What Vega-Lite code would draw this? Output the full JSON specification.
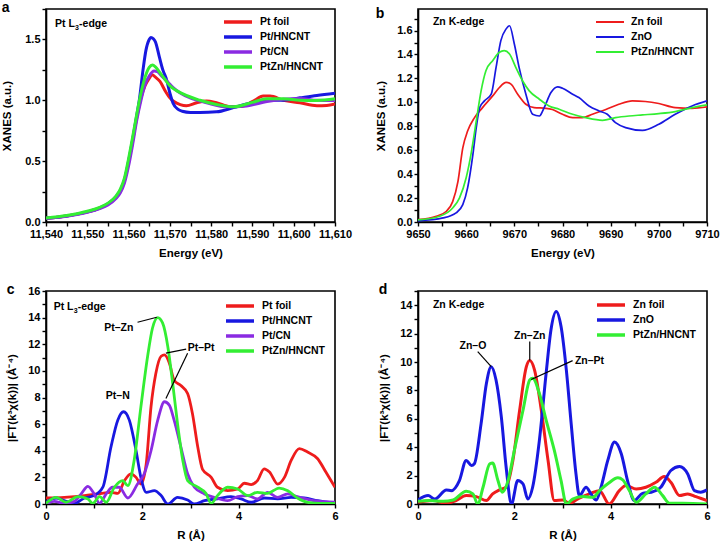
{
  "$schema": "https://vega.github.io/schema/vega-lite/v6.json",
  "padding": {"left": 0, "top": 0, "right": 0, "bottom": 0},
  "bounds": "flush",
  "columns": 2,
  "spacing": {"row": 69, "column": 83},
  "resolve": {"scale": {"color": "independent"}, "legend": {"color": "independent"}},
  "config": {
    "font": "Liberation Sans",
    "view": {"stroke": "black", "strokeWidth": 1.6},
    "axis": {"grid": false, "domainColor": "black", "domainWidth": 1.6, "tickColor": "black", "tickWidth": 1.4, "tickSize": 4, "labelFont": "Liberation Sans", "labelFontWeight": "bold", "labelFontSize": 11, "labelColor": "black", "labelPadding": 2, "titleFont": "Liberation Sans", "titleFontWeight": "bold", "titleFontSize": 11.5, "titleColor": "black", "labelFlush": false, "labelOverlap": false},
    "legend": {"labelFont": "Liberation Sans", "labelFontWeight": "bold", "labelFontSize": 10.5, "labelColor": "black", "padding": 0, "rowPadding": 3, "labelOffset": 6, "clipHeight": 12},
    "title": {"font": "Liberation Sans", "fontWeight": "bold", "fontSize": 14, "color": "black", "anchor": "start", "frame": "bounds", "baseline": "alphabetic", "offset": -12}
  },
  "datasets": {
    "a": [
      {"s":"Pt foil","x":11540,"y":0.03},{"s":"Pt foil","x":11545,"y":0.05},{"s":"Pt foil","x":11550,"y":0.083},{"s":"Pt foil","x":11553,"y":0.115},{"s":"Pt foil","x":11555,"y":0.148},{"s":"Pt foil","x":11557,"y":0.205},{"s":"Pt foil","x":11558,"y":0.255},{"s":"Pt foil","x":11559,"y":0.34},{"s":"Pt foil","x":11560,"y":0.49},{"s":"Pt foil","x":11561,"y":0.67},{"s":"Pt foil","x":11562,"y":0.86},{"s":"Pt foil","x":11563,"y":1.02},{"s":"Pt foil","x":11564,"y":1.12},{"s":"Pt foil","x":11565,"y":1.18},{"s":"Pt foil","x":11565.7,"y":1.21},{"s":"Pt foil","x":11566.5,"y":1.19},{"s":"Pt foil","x":11567.6,"y":1.155},{"s":"Pt foil","x":11569,"y":1.07},{"s":"Pt foil","x":11570,"y":1.02},{"s":"Pt foil","x":11571,"y":0.99},{"s":"Pt foil","x":11572.5,"y":0.965},{"s":"Pt foil","x":11574,"y":0.955},{"s":"Pt foil","x":11576.5,"y":0.98},{"s":"Pt foil","x":11578.9,"y":0.995},{"s":"Pt foil","x":11581.3,"y":0.98},{"s":"Pt foil","x":11584.6,"y":0.948},{"s":"Pt foil","x":11587,"y":0.948},{"s":"Pt foil","x":11590.2,"y":0.993},{"s":"Pt foil","x":11592.6,"y":1.035},{"s":"Pt foil","x":11594.3,"y":1.035},{"s":"Pt foil","x":11597.5,"y":1.0},{"s":"Pt foil","x":11601.5,"y":0.98},{"s":"Pt foil","x":11605.6,"y":0.956},{"s":"Pt foil","x":11608,"y":0.958},{"s":"Pt foil","x":11610,"y":0.97},
      {"s":"Pt/HNCNT","x":11540,"y":0.03},{"s":"Pt/HNCNT","x":11545,"y":0.05},{"s":"Pt/HNCNT","x":11550,"y":0.083},{"s":"Pt/HNCNT","x":11553,"y":0.115},{"s":"Pt/HNCNT","x":11555,"y":0.15},{"s":"Pt/HNCNT","x":11557,"y":0.21},{"s":"Pt/HNCNT","x":11558,"y":0.26},{"s":"Pt/HNCNT","x":11559,"y":0.345},{"s":"Pt/HNCNT","x":11560,"y":0.5},{"s":"Pt/HNCNT","x":11561,"y":0.68},{"s":"Pt/HNCNT","x":11562,"y":0.88},{"s":"Pt/HNCNT","x":11562.6,"y":1.0},{"s":"Pt/HNCNT","x":11563.5,"y":1.25},{"s":"Pt/HNCNT","x":11564.2,"y":1.41},{"s":"Pt/HNCNT","x":11565,"y":1.5},{"s":"Pt/HNCNT","x":11565.4,"y":1.516},{"s":"Pt/HNCNT","x":11566,"y":1.505},{"s":"Pt/HNCNT","x":11566.5,"y":1.48},{"s":"Pt/HNCNT","x":11567.5,"y":1.35},{"s":"Pt/HNCNT","x":11568.3,"y":1.25},{"s":"Pt/HNCNT","x":11569.2,"y":1.17},{"s":"Pt/HNCNT","x":11570,"y":1.06},{"s":"Pt/HNCNT","x":11570.8,"y":0.975},{"s":"Pt/HNCNT","x":11572,"y":0.925},{"s":"Pt/HNCNT","x":11573,"y":0.91},{"s":"Pt/HNCNT","x":11575,"y":0.9},{"s":"Pt/HNCNT","x":11577.3,"y":0.9},{"s":"Pt/HNCNT","x":11581.3,"y":0.905},{"s":"Pt/HNCNT","x":11585.4,"y":0.94},{"s":"Pt/HNCNT","x":11589.4,"y":0.975},{"s":"Pt/HNCNT","x":11593.5,"y":1.0},{"s":"Pt/HNCNT","x":11597.5,"y":1.0},{"s":"Pt/HNCNT","x":11601.5,"y":1.02},{"s":"Pt/HNCNT","x":11605.6,"y":1.04},{"s":"Pt/HNCNT","x":11610,"y":1.058},
      {"s":"Pt/CN","x":11540,"y":0.03},{"s":"Pt/CN","x":11545,"y":0.048},{"s":"Pt/CN","x":11550,"y":0.08},{"s":"Pt/CN","x":11553,"y":0.11},{"s":"Pt/CN","x":11555,"y":0.14},{"s":"Pt/CN","x":11557,"y":0.195},{"s":"Pt/CN","x":11558,"y":0.24},{"s":"Pt/CN","x":11559,"y":0.32},{"s":"Pt/CN","x":11560,"y":0.46},{"s":"Pt/CN","x":11561,"y":0.64},{"s":"Pt/CN","x":11562,"y":0.84},{"s":"Pt/CN","x":11563,"y":1.0},{"s":"Pt/CN","x":11564,"y":1.13},{"s":"Pt/CN","x":11565,"y":1.2},{"s":"Pt/CN","x":11566.2,"y":1.24},{"s":"Pt/CN","x":11567,"y":1.235},{"s":"Pt/CN","x":11568,"y":1.2},{"s":"Pt/CN","x":11569.5,"y":1.15},{"s":"Pt/CN","x":11570.8,"y":1.104},{"s":"Pt/CN","x":11572.5,"y":1.06},{"s":"Pt/CN","x":11574.9,"y":1.02},{"s":"Pt/CN","x":11578.9,"y":0.98},{"s":"Pt/CN","x":11583.8,"y":0.946},{"s":"Pt/CN","x":11588.6,"y":0.954},{"s":"Pt/CN","x":11593.5,"y":0.99},{"s":"Pt/CN","x":11597.5,"y":1.008},{"s":"Pt/CN","x":11601.5,"y":1.015},{"s":"Pt/CN","x":11605.6,"y":1.0},{"s":"Pt/CN","x":11610,"y":0.998},
      {"s":"PtZn/HNCNT","x":11540,"y":0.033},{"s":"PtZn/HNCNT","x":11545,"y":0.053},{"s":"PtZn/HNCNT","x":11550,"y":0.088},{"s":"PtZn/HNCNT","x":11553,"y":0.12},{"s":"PtZn/HNCNT","x":11555,"y":0.155},{"s":"PtZn/HNCNT","x":11557,"y":0.215},{"s":"PtZn/HNCNT","x":11558,"y":0.27},{"s":"PtZn/HNCNT","x":11559,"y":0.36},{"s":"PtZn/HNCNT","x":11560,"y":0.52},{"s":"PtZn/HNCNT","x":11561,"y":0.7},{"s":"PtZn/HNCNT","x":11562,"y":0.89},{"s":"PtZn/HNCNT","x":11563,"y":1.06},{"s":"PtZn/HNCNT","x":11564,"y":1.19},{"s":"PtZn/HNCNT","x":11565,"y":1.27},{"s":"PtZn/HNCNT","x":11565.8,"y":1.29},{"s":"PtZn/HNCNT","x":11566.5,"y":1.275},{"s":"PtZn/HNCNT","x":11567.6,"y":1.227},{"s":"PtZn/HNCNT","x":11570,"y":1.12},{"s":"PtZn/HNCNT","x":11573.3,"y":1.05},{"s":"PtZn/HNCNT","x":11577.3,"y":1.0},{"s":"PtZn/HNCNT","x":11581.3,"y":0.966},{"s":"PtZn/HNCNT","x":11585.4,"y":0.946},{"s":"PtZn/HNCNT","x":11590.2,"y":0.985},{"s":"PtZn/HNCNT","x":11593.5,"y":1.012},{"s":"PtZn/HNCNT","x":11597.5,"y":1.012},{"s":"PtZn/HNCNT","x":11601.5,"y":1.0},{"s":"PtZn/HNCNT","x":11605.6,"y":0.998},{"s":"PtZn/HNCNT","x":11610,"y":1.012}
    ],
    "b": [
      {"s":"Zn foil","x":9650,"y":0.02},{"s":"Zn foil","x":9653.8,"y":0.048},{"s":"Zn foil","x":9655.9,"y":0.09},{"s":"Zn foil","x":9657.2,"y":0.17},{"s":"Zn foil","x":9658.3,"y":0.34},{"s":"Zn foil","x":9659.3,"y":0.62},{"s":"Zn foil","x":9660.3,"y":0.76},{"s":"Zn foil","x":9661.7,"y":0.87},{"s":"Zn foil","x":9663.4,"y":0.956},{"s":"Zn foil","x":9665.5,"y":1.054},{"s":"Zn foil","x":9666.9,"y":1.124},{"s":"Zn foil","x":9668.3,"y":1.166},{"s":"Zn foil","x":9669.3,"y":1.152},{"s":"Zn foil","x":9670.7,"y":1.068},{"s":"Zn foil","x":9672.4,"y":0.984},{"s":"Zn foil","x":9674.1,"y":0.956},{"s":"Zn foil","x":9676.6,"y":0.95},{"s":"Zn foil","x":9677.9,"y":0.94},{"s":"Zn foil","x":9680,"y":0.9},{"s":"Zn foil","x":9682.1,"y":0.872},{"s":"Zn foil","x":9684.1,"y":0.872},{"s":"Zn foil","x":9686.2,"y":0.9},{"s":"Zn foil","x":9689,"y":0.94},{"s":"Zn foil","x":9691.7,"y":0.984},{"s":"Zn foil","x":9694.5,"y":1.012},{"s":"Zn foil","x":9697.2,"y":1.007},{"s":"Zn foil","x":9700,"y":0.99},{"s":"Zn foil","x":9703.4,"y":0.956},{"s":"Zn foil","x":9706.9,"y":0.95},{"s":"Zn foil","x":9710,"y":0.962},
      {"s":"ZnO","x":9650,"y":0.01},{"s":"ZnO","x":9655.2,"y":0.034},{"s":"ZnO","x":9657.9,"y":0.076},{"s":"ZnO","x":9659.3,"y":0.145},{"s":"ZnO","x":9660.3,"y":0.285},{"s":"ZnO","x":9661.4,"y":0.565},{"s":"ZnO","x":9662.1,"y":0.79},{"s":"ZnO","x":9662.8,"y":0.956},{"s":"ZnO","x":9663.8,"y":1.012},{"s":"ZnO","x":9665.2,"y":1.068},{"s":"ZnO","x":9666.2,"y":1.29},{"s":"ZnO","x":9667.2,"y":1.516},{"s":"ZnO","x":9668.3,"y":1.614},{"s":"ZnO","x":9669,"y":1.64},{"s":"ZnO","x":9670,"y":1.488},{"s":"ZnO","x":9671,"y":1.29},{"s":"ZnO","x":9672.4,"y":1.068},{"s":"ZnO","x":9673.8,"y":0.9},{"s":"ZnO","x":9675.2,"y":0.886},{"s":"ZnO","x":9676.2,"y":0.956},{"s":"ZnO","x":9677.6,"y":1.082},{"s":"ZnO","x":9679,"y":1.13},{"s":"ZnO","x":9680,"y":1.118},{"s":"ZnO","x":9682.1,"y":1.068},{"s":"ZnO","x":9683.4,"y":1.04},{"s":"ZnO","x":9685.5,"y":0.97},{"s":"ZnO","x":9687.6,"y":0.928},{"s":"ZnO","x":9689.3,"y":0.9},{"s":"ZnO","x":9691,"y":0.83},{"s":"ZnO","x":9693.1,"y":0.789},{"s":"ZnO","x":9696.6,"y":0.766},{"s":"ZnO","x":9700,"y":0.817},{"s":"ZnO","x":9703.4,"y":0.9},{"s":"ZnO","x":9706.9,"y":0.97},{"s":"ZnO","x":9710,"y":1.012},
      {"s":"PtZn/HNCNT","x":9650,"y":0.017},{"s":"PtZn/HNCNT","x":9654.5,"y":0.048},{"s":"PtZn/HNCNT","x":9657.2,"y":0.117},{"s":"PtZn/HNCNT","x":9658.6,"y":0.2},{"s":"PtZn/HNCNT","x":9660,"y":0.37},{"s":"PtZn/HNCNT","x":9661,"y":0.565},{"s":"PtZn/HNCNT","x":9662.1,"y":0.845},{"s":"PtZn/HNCNT","x":9663.1,"y":1.096},{"s":"PtZn/HNCNT","x":9664.1,"y":1.264},{"s":"PtZn/HNCNT","x":9665.5,"y":1.348},{"s":"PtZn/HNCNT","x":9666.9,"y":1.418},{"s":"PtZn/HNCNT","x":9667.9,"y":1.432},{"s":"PtZn/HNCNT","x":9669,"y":1.404},{"s":"PtZn/HNCNT","x":9670.3,"y":1.292},{"s":"PtZn/HNCNT","x":9671.7,"y":1.18},{"s":"PtZn/HNCNT","x":9673.1,"y":1.096},{"s":"PtZn/HNCNT","x":9675.2,"y":1.026},{"s":"PtZn/HNCNT","x":9677.2,"y":0.97},{"s":"PtZn/HNCNT","x":9679.3,"y":0.942},{"s":"PtZn/HNCNT","x":9682.1,"y":0.9},{"s":"PtZn/HNCNT","x":9684.8,"y":0.872},{"s":"PtZn/HNCNT","x":9688.3,"y":0.85},{"s":"PtZn/HNCNT","x":9691,"y":0.872},{"s":"PtZn/HNCNT","x":9693.8,"y":0.886},{"s":"PtZn/HNCNT","x":9696.6,"y":0.895},{"s":"PtZn/HNCNT","x":9700,"y":0.906},{"s":"PtZn/HNCNT","x":9703.4,"y":0.923},{"s":"PtZn/HNCNT","x":9706.9,"y":0.956},{"s":"PtZn/HNCNT","x":9710,"y":0.979}
    ],
    "c": [
      {"s":"Pt foil","x":0,"y":0.45},{"s":"Pt foil","x":0.38,"y":0.5},{"s":"Pt foil","x":0.8,"y":0.63},{"s":"Pt foil","x":1.07,"y":0.76},{"s":"Pt foil","x":1.35,"y":0.88},{"s":"Pt foil","x":1.49,"y":0.8},{"s":"Pt foil","x":1.63,"y":1.76},{"s":"Pt foil","x":1.76,"y":2.27},{"s":"Pt foil","x":1.87,"y":2.0},{"s":"Pt foil","x":1.97,"y":1.5},{"s":"Pt foil","x":2.08,"y":3.0},{"s":"Pt foil","x":2.18,"y":7.3},{"s":"Pt foil","x":2.28,"y":9.8},{"s":"Pt foil","x":2.39,"y":11.1},{"s":"Pt foil","x":2.46,"y":11.2},{"s":"Pt foil","x":2.56,"y":10.6},{"s":"Pt foil","x":2.66,"y":9.3},{"s":"Pt foil","x":2.8,"y":8.9},{"s":"Pt foil","x":2.94,"y":8.3},{"s":"Pt foil","x":3.04,"y":6.8},{"s":"Pt foil","x":3.15,"y":4.3},{"s":"Pt foil","x":3.25,"y":2.6},{"s":"Pt foil","x":3.43,"y":2.0},{"s":"Pt foil","x":3.56,"y":1.26},{"s":"Pt foil","x":3.77,"y":1.0},{"s":"Pt foil","x":3.98,"y":1.13},{"s":"Pt foil","x":4.12,"y":1.56},{"s":"Pt foil","x":4.26,"y":1.46},{"s":"Pt foil","x":4.39,"y":1.76},{"s":"Pt foil","x":4.53,"y":2.64},{"s":"Pt foil","x":4.64,"y":2.4},{"s":"Pt foil","x":4.81,"y":1.5},{"s":"Pt foil","x":4.95,"y":2.0},{"s":"Pt foil","x":5.09,"y":3.27},{"s":"Pt foil","x":5.26,"y":4.16},{"s":"Pt foil","x":5.43,"y":3.9},{"s":"Pt foil","x":5.64,"y":3.4},{"s":"Pt foil","x":5.81,"y":2.4},{"s":"Pt foil","x":6.0,"y":1.26},
      {"s":"Pt/HNCNT","x":0,"y":0.13},{"s":"Pt/HNCNT","x":0.21,"y":0.45},{"s":"Pt/HNCNT","x":0.38,"y":0.25},{"s":"Pt/HNCNT","x":0.59,"y":0.05},{"s":"Pt/HNCNT","x":0.8,"y":0.45},{"s":"Pt/HNCNT","x":1.0,"y":0.63},{"s":"Pt/HNCNT","x":1.18,"y":1.26},{"s":"Pt/HNCNT","x":1.35,"y":4.3},{"s":"Pt/HNCNT","x":1.49,"y":6.3},{"s":"Pt/HNCNT","x":1.61,"y":6.93},{"s":"Pt/HNCNT","x":1.73,"y":6.3},{"s":"Pt/HNCNT","x":1.87,"y":4.0},{"s":"Pt/HNCNT","x":1.97,"y":2.0},{"s":"Pt/HNCNT","x":2.08,"y":0.88},{"s":"Pt/HNCNT","x":2.25,"y":1.0},{"s":"Pt/HNCNT","x":2.39,"y":0.63},{"s":"Pt/HNCNT","x":2.53,"y":0.0},{"s":"Pt/HNCNT","x":2.73,"y":0.5},{"s":"Pt/HNCNT","x":2.94,"y":0.3},{"s":"Pt/HNCNT","x":3.08,"y":0.0},{"s":"Pt/HNCNT","x":3.29,"y":0.25},{"s":"Pt/HNCNT","x":3.56,"y":0.38},{"s":"Pt/HNCNT","x":3.84,"y":0.55},{"s":"Pt/HNCNT","x":4.05,"y":0.38},{"s":"Pt/HNCNT","x":4.26,"y":0.13},{"s":"Pt/HNCNT","x":4.53,"y":0.45},{"s":"Pt/HNCNT","x":4.81,"y":0.38},{"s":"Pt/HNCNT","x":5.09,"y":0.5},{"s":"Pt/HNCNT","x":5.36,"y":0.45},{"s":"Pt/HNCNT","x":5.64,"y":0.25},{"s":"Pt/HNCNT","x":6.0,"y":0.05},
      {"s":"Pt/CN","x":0,"y":0.0},{"s":"Pt/CN","x":0.17,"y":0.2},{"s":"Pt/CN","x":0.38,"y":0.05},{"s":"Pt/CN","x":0.59,"y":0.2},{"s":"Pt/CN","x":0.73,"y":0.76},{"s":"Pt/CN","x":0.87,"y":1.33},{"s":"Pt/CN","x":1.0,"y":0.76},{"s":"Pt/CN","x":1.11,"y":0.05},{"s":"Pt/CN","x":1.25,"y":0.76},{"s":"Pt/CN","x":1.38,"y":1.26},{"s":"Pt/CN","x":1.52,"y":1.26},{"s":"Pt/CN","x":1.7,"y":0.45},{"s":"Pt/CN","x":1.9,"y":1.5},{"s":"Pt/CN","x":2.04,"y":2.27},{"s":"Pt/CN","x":2.18,"y":4.0},{"s":"Pt/CN","x":2.32,"y":6.3},{"s":"Pt/CN","x":2.46,"y":7.68},{"s":"Pt/CN","x":2.56,"y":7.43},{"s":"Pt/CN","x":2.66,"y":6.3},{"s":"Pt/CN","x":2.8,"y":4.28},{"s":"Pt/CN","x":2.94,"y":2.27},{"s":"Pt/CN","x":3.08,"y":1.26},{"s":"Pt/CN","x":3.29,"y":0.76},{"s":"Pt/CN","x":3.49,"y":0.5},{"s":"Pt/CN","x":3.77,"y":0.25},{"s":"Pt/CN","x":3.98,"y":0.55},{"s":"Pt/CN","x":4.19,"y":0.63},{"s":"Pt/CN","x":4.39,"y":0.38},{"s":"Pt/CN","x":4.6,"y":0.88},{"s":"Pt/CN","x":4.81,"y":0.5},{"s":"Pt/CN","x":5.02,"y":0.76},{"s":"Pt/CN","x":5.22,"y":0.55},{"s":"Pt/CN","x":5.5,"y":0.3},{"s":"Pt/CN","x":5.78,"y":0.18},{"s":"Pt/CN","x":6.0,"y":0.13},
      {"s":"PtZn/HNCNT","x":0,"y":0.05},{"s":"PtZn/HNCNT","x":0.21,"y":0.5},{"s":"PtZn/HNCNT","x":0.42,"y":0.13},{"s":"PtZn/HNCNT","x":0.66,"y":0.55},{"s":"PtZn/HNCNT","x":0.87,"y":0.38},{"s":"PtZn/HNCNT","x":0.97,"y":0.05},{"s":"PtZn/HNCNT","x":1.11,"y":0.55},{"s":"PtZn/HNCNT","x":1.25,"y":0.13},{"s":"PtZn/HNCNT","x":1.42,"y":1.26},{"s":"PtZn/HNCNT","x":1.59,"y":1.76},{"s":"PtZn/HNCNT","x":1.7,"y":1.38},{"s":"PtZn/HNCNT","x":1.83,"y":3.27},{"s":"PtZn/HNCNT","x":1.97,"y":7.3},{"s":"PtZn/HNCNT","x":2.11,"y":11.1},{"s":"PtZn/HNCNT","x":2.21,"y":13.2},{"s":"PtZn/HNCNT","x":2.32,"y":14.0},{"s":"PtZn/HNCNT","x":2.42,"y":13.6},{"s":"PtZn/HNCNT","x":2.53,"y":11.8},{"s":"PtZn/HNCNT","x":2.63,"y":9.07},{"s":"PtZn/HNCNT","x":2.73,"y":6.05},{"s":"PtZn/HNCNT","x":2.84,"y":3.27},{"s":"PtZn/HNCNT","x":2.94,"y":1.76},{"s":"PtZn/HNCNT","x":3.15,"y":1.26},{"s":"PtZn/HNCNT","x":3.32,"y":0.8},{"s":"PtZn/HNCNT","x":3.43,"y":0.05},{"s":"PtZn/HNCNT","x":3.56,"y":0.63},{"s":"PtZn/HNCNT","x":3.77,"y":1.26},{"s":"PtZn/HNCNT","x":3.98,"y":1.13},{"s":"PtZn/HNCNT","x":4.19,"y":0.63},{"s":"PtZn/HNCNT","x":4.39,"y":0.88},{"s":"PtZn/HNCNT","x":4.6,"y":0.8},{"s":"PtZn/HNCNT","x":4.84,"y":1.2},{"s":"PtZn/HNCNT","x":5.02,"y":1.0},{"s":"PtZn/HNCNT","x":5.22,"y":0.45},{"s":"PtZn/HNCNT","x":5.43,"y":0.13},{"s":"PtZn/HNCNT","x":5.71,"y":0.05},{"s":"PtZn/HNCNT","x":6.0,"y":0.05}
    ],
    "d": [
      {"s":"Zn foil","x":0,"y":0.12},{"s":"Zn foil","x":0.31,"y":0.24},{"s":"Zn foil","x":0.59,"y":0.05},{"s":"Zn foil","x":0.79,"y":0.24},{"s":"Zn foil","x":1.0,"y":0.59},{"s":"Zn foil","x":1.21,"y":0.52},{"s":"Zn foil","x":1.42,"y":0.24},{"s":"Zn foil","x":1.55,"y":0.71},{"s":"Zn foil","x":1.69,"y":0.99},{"s":"Zn foil","x":1.83,"y":1.18},{"s":"Zn foil","x":1.97,"y":3.07},{"s":"Zn foil","x":2.11,"y":6.6},{"s":"Zn foil","x":2.25,"y":9.67},{"s":"Zn foil","x":2.32,"y":10.1},{"s":"Zn foil","x":2.42,"y":9.43},{"s":"Zn foil","x":2.56,"y":6.6},{"s":"Zn foil","x":2.7,"y":3.07},{"s":"Zn foil","x":2.83,"y":0.24},{"s":"Zn foil","x":3.01,"y":0.28},{"s":"Zn foil","x":3.14,"y":0.05},{"s":"Zn foil","x":3.35,"y":0.42},{"s":"Zn foil","x":3.56,"y":0.71},{"s":"Zn foil","x":3.77,"y":0.94},{"s":"Zn foil","x":3.97,"y":0.0},{"s":"Zn foil","x":4.18,"y":0.94},{"s":"Zn foil","x":4.32,"y":1.3},{"s":"Zn foil","x":4.53,"y":1.06},{"s":"Zn foil","x":4.73,"y":1.18},{"s":"Zn foil","x":4.94,"y":1.53},{"s":"Zn foil","x":5.11,"y":1.93},{"s":"Zn foil","x":5.25,"y":1.53},{"s":"Zn foil","x":5.43,"y":0.59},{"s":"Zn foil","x":5.6,"y":0.71},{"s":"Zn foil","x":5.77,"y":0.52},{"s":"Zn foil","x":6.0,"y":0.24},
      {"s":"ZnO","x":0,"y":0.28},{"s":"ZnO","x":0.21,"y":0.59},{"s":"ZnO","x":0.35,"y":0.35},{"s":"ZnO","x":0.59,"y":0.99},{"s":"ZnO","x":0.69,"y":0.94},{"s":"ZnO","x":0.86,"y":1.65},{"s":"ZnO","x":1.0,"y":3.07},{"s":"ZnO","x":1.11,"y":2.71},{"s":"ZnO","x":1.17,"y":2.83},{"s":"ZnO","x":1.31,"y":5.66},{"s":"ZnO","x":1.42,"y":8.49},{"s":"ZnO","x":1.52,"y":9.67},{"s":"ZnO","x":1.62,"y":8.73},{"s":"ZnO","x":1.73,"y":6.13},{"s":"ZnO","x":1.83,"y":2.59},{"s":"ZnO","x":1.94,"y":0.0},{"s":"ZnO","x":2.07,"y":1.65},{"s":"ZnO","x":2.18,"y":1.42},{"s":"ZnO","x":2.28,"y":0.35},{"s":"ZnO","x":2.38,"y":1.18},{"s":"ZnO","x":2.52,"y":4.48},{"s":"ZnO","x":2.66,"y":9.2},{"s":"ZnO","x":2.76,"y":12.26},{"s":"ZnO","x":2.87,"y":13.56},{"s":"ZnO","x":2.97,"y":12.5},{"s":"ZnO","x":3.08,"y":9.43},{"s":"ZnO","x":3.18,"y":5.66},{"s":"ZnO","x":3.28,"y":2.12},{"s":"ZnO","x":3.35,"y":0.59},{"s":"ZnO","x":3.49,"y":1.18},{"s":"ZnO","x":3.59,"y":0.71},{"s":"ZnO","x":3.7,"y":0.28},{"s":"ZnO","x":3.8,"y":1.18},{"s":"ZnO","x":3.94,"y":3.07},{"s":"ZnO","x":4.08,"y":4.36},{"s":"ZnO","x":4.22,"y":3.54},{"s":"ZnO","x":4.35,"y":1.65},{"s":"ZnO","x":4.49,"y":0.24},{"s":"ZnO","x":4.66,"y":0.75},{"s":"ZnO","x":4.84,"y":0.83},{"s":"ZnO","x":5.04,"y":1.18},{"s":"ZnO","x":5.25,"y":2.36},{"s":"ZnO","x":5.43,"y":2.64},{"s":"ZnO","x":5.6,"y":2.12},{"s":"ZnO","x":5.74,"y":0.94},{"s":"ZnO","x":5.87,"y":0.83},{"s":"ZnO","x":6.0,"y":0.99},
      {"s":"PtZn/HNCNT","x":0,"y":0.19},{"s":"PtZn/HNCNT","x":0.24,"y":0.24},{"s":"PtZn/HNCNT","x":0.52,"y":0.19},{"s":"PtZn/HNCNT","x":0.73,"y":0.28},{"s":"PtZn/HNCNT","x":1.0,"y":0.9},{"s":"PtZn/HNCNT","x":1.14,"y":0.71},{"s":"PtZn/HNCNT","x":1.24,"y":0.0},{"s":"PtZn/HNCNT","x":1.35,"y":1.18},{"s":"PtZn/HNCNT","x":1.49,"y":2.83},{"s":"PtZn/HNCNT","x":1.55,"y":2.88},{"s":"PtZn/HNCNT","x":1.66,"y":1.65},{"s":"PtZn/HNCNT","x":1.75,"y":0.83},{"s":"PtZn/HNCNT","x":1.87,"y":1.65},{"s":"PtZn/HNCNT","x":2.0,"y":3.77},{"s":"PtZn/HNCNT","x":2.18,"y":6.6},{"s":"PtZn/HNCNT","x":2.32,"y":8.73},{"s":"PtZn/HNCNT","x":2.38,"y":8.85},{"s":"PtZn/HNCNT","x":2.52,"y":7.78},{"s":"PtZn/HNCNT","x":2.66,"y":5.9},{"s":"PtZn/HNCNT","x":2.83,"y":3.77},{"s":"PtZn/HNCNT","x":2.97,"y":1.65},{"s":"PtZn/HNCNT","x":3.08,"y":0.0},{"s":"PtZn/HNCNT","x":3.21,"y":0.35},{"s":"PtZn/HNCNT","x":3.42,"y":0.52},{"s":"PtZn/HNCNT","x":3.63,"y":0.47},{"s":"PtZn/HNCNT","x":3.77,"y":0.94},{"s":"PtZn/HNCNT","x":3.94,"y":1.42},{"s":"PtZn/HNCNT","x":4.15,"y":1.84},{"s":"PtZn/HNCNT","x":4.25,"y":1.7},{"s":"PtZn/HNCNT","x":4.39,"y":0.94},{"s":"PtZn/HNCNT","x":4.53,"y":0.12},{"s":"PtZn/HNCNT","x":4.73,"y":0.71},{"s":"PtZn/HNCNT","x":4.91,"y":1.18},{"s":"PtZn/HNCNT","x":5.08,"y":0.59},{"s":"PtZn/HNCNT","x":5.22,"y":0.05},{"s":"PtZn/HNCNT","x":5.49,"y":0.05},{"s":"PtZn/HNCNT","x":6.0,"y":0.0}
    ]
  },
  "concat": [
    {
      "width": 289, "height": 213,
      "title": {"text": "a"},
      "encoding": {
        "x": {"field": "x", "type": "quantitative", "scale": {"domain": [11540, 11610], "nice": false, "zero": false}, "axis": {"title": "Energy (eV)", "values": [11540,11545,11550,11555,11560,11565,11570,11575,11580,11585,11590,11595,11600,11605,11610], "labelExpr": "datum.value % 10 === 0 ? format(datum.value, ',') : ''", "titlePadding": 8}},
        "y": {"field": "y", "type": "quantitative", "scale": {"domain": [0, 1.75], "nice": false}, "axis": {"title": "XANES (a.u.)", "values": [0,0.25,0.5,0.75,1,1.25,1.5,1.75], "labelExpr": "round(datum.value*100) % 50 === 0 ? format(datum.value, '.1f') : ''", "titlePadding": 12}}
      },
      "layer": [
        {"data": {"name": "a"}, "mark": {"type": "line", "strokeWidth": 3, "interpolate": "monotone", "clip": true},
         "encoding": {"color": {"field": "s", "type": "nominal", "sort": null, "scale": {"domain": ["Pt foil","Pt/HNCNT","Pt/CN","PtZn/HNCNT"], "range": ["#EE1C1C","#1818E0","#8A2BE2","#33EE33"]},
           "legend": {"title": null, "orient": "none", "legendX": 176, "legendY": 7, "symbolType": "stroke", "symbolSize": 784, "symbolStrokeWidth": 3.5}}}},
        {"data": {"values": [{"x": 11542.2, "y": 1.6, "t": "Pt L"}]}, "mark": {"type": "text", "align": "left", "baseline": "alphabetic", "font": "Liberation Sans", "fontWeight": "bold", "fontSize": 10.5, "color": "black"}, "encoding": {"text": {"field": "t"}}},
        {"data": {"values": [{"x": 11542.2, "y": 1.6, "t": "3"}]}, "mark": {"type": "text", "align": "left", "baseline": "alphabetic", "dx": 20, "dy": 3, "font": "Liberation Sans", "fontWeight": "bold", "fontSize": 7, "color": "black"}, "encoding": {"text": {"field": "t"}}},
        {"data": {"values": [{"x": 11542.2, "y": 1.6, "t": "-edge"}]}, "mark": {"type": "text", "align": "left", "baseline": "alphabetic", "dx": 24, "font": "Liberation Sans", "fontWeight": "bold", "fontSize": 10.5, "color": "black"}, "encoding": {"text": {"field": "t"}}}
      ]
    },
    {
      "width": 289, "height": 213,
      "title": {"text": "b"},
      "encoding": {
        "x": {"field": "x", "type": "quantitative", "scale": {"domain": [9650, 9710], "nice": false, "zero": false}, "axis": {"title": "Energy (eV)", "values": [9650,9655,9660,9665,9670,9675,9680,9685,9690,9695,9700,9705,9710], "labelExpr": "datum.value % 10 === 0 ? format(datum.value, 'd') : ''", "titlePadding": 8}},
        "y": {"field": "y", "type": "quantitative", "scale": {"domain": [0, 1.78], "nice": false}, "axis": {"title": "XANES (a.u.)", "values": [0,0.1,0.2,0.3,0.4,0.5,0.6,0.7,0.8,0.9,1,1.1,1.2,1.3,1.4,1.5,1.6,1.7], "labelExpr": "round(datum.value*10) % 2 === 0 ? format(datum.value, '.1f') : ''", "titlePadding": 10}}
      },
      "layer": [
        {"data": {"name": "b"}, "mark": {"type": "line", "strokeWidth": 1.7, "interpolate": "monotone", "clip": true},
         "encoding": {"color": {"field": "s", "type": "nominal", "sort": null, "scale": {"domain": ["Zn foil","ZnO","PtZn/HNCNT"], "range": ["#EE1C1C","#1818E0","#33EE33"]},
           "legend": {"title": null, "orient": "none", "legendX": 177, "legendY": 7, "symbolType": "stroke", "symbolSize": 784, "symbolStrokeWidth": 2}}}},
        {"data": {"values": [{"x": 9653.1, "y": 1.67, "t": "Zn K-edge"}]}, "mark": {"type": "text", "align": "left", "baseline": "middle", "font": "Liberation Sans", "fontWeight": "bold", "fontSize": 10.5, "color": "black"}, "encoding": {"text": {"field": "t"}}}
      ]
    },
    {
      "width": 289, "height": 213,
      "title": {"text": "c"},
      "encoding": {
        "x": {"field": "x", "type": "quantitative", "scale": {"domain": [0, 6], "nice": false}, "axis": {"title": "R (Å)", "values": [0,1,2,3,4,5,6], "labelExpr": "datum.value % 2 === 0 ? format(datum.value, 'd') : ''", "titlePadding": 8}},
        "y": {"field": "y", "type": "quantitative", "scale": {"domain": [0, 16], "nice": false}, "axis": {"title": "|FT(k³χ(k))| (Å⁻⁴)", "values": [0,1,2,3,4,5,6,7,8,9,10,11,12,13,14,15,16], "labelExpr": "datum.value % 2 === 0 ? format(datum.value, 'd') : ''", "titlePadding": 10}}
      },
      "layer": [
        {"data": {"name": "c"}, "mark": {"type": "line", "strokeWidth": 2.8, "interpolate": "monotone", "clip": true},
         "encoding": {"color": {"field": "s", "type": "nominal", "sort": null, "scale": {"domain": ["Pt foil","Pt/HNCNT","Pt/CN","PtZn/HNCNT"], "range": ["#EE1C1C","#1818E0","#8A2BE2","#33EE33"]},
           "legend": {"title": null, "orient": "none", "legendX": 178, "legendY": 9, "symbolType": "stroke", "symbolSize": 784, "symbolStrokeWidth": 3.5}}}},
        {"data": {"values": [{"x": 0.16, "y": 14.6, "t": "Pt L"}]}, "mark": {"type": "text", "align": "left", "baseline": "alphabetic", "font": "Liberation Sans", "fontWeight": "bold", "fontSize": 10.5, "color": "black"}, "encoding": {"text": {"field": "t"}}},
        {"data": {"values": [{"x": 0.16, "y": 14.6, "t": "3"}]}, "mark": {"type": "text", "align": "left", "baseline": "alphabetic", "dx": 20, "dy": 3, "font": "Liberation Sans", "fontWeight": "bold", "fontSize": 7, "color": "black"}, "encoding": {"text": {"field": "t"}}},
        {"data": {"values": [{"x": 0.16, "y": 14.6, "t": "-edge"}]}, "mark": {"type": "text", "align": "left", "baseline": "alphabetic", "dx": 24, "font": "Liberation Sans", "fontWeight": "bold", "fontSize": 10.5, "color": "black"}, "encoding": {"text": {"field": "t"}}},
        {"data": {"values": [{"x": 1.51, "y": 13.2, "t": "Pt–Zn"}, {"x": 3.22, "y": 11.7, "t": "Pt–Pt"}, {"x": 1.49, "y": 8.1, "t": "Pt–N"}]}, "mark": {"type": "text", "align": "center", "baseline": "middle", "font": "Liberation Sans", "fontWeight": "bold", "fontSize": 10.5, "color": "black"}, "encoding": {"text": {"field": "t"}}},
        {"data": {"values": [{"x": 1.9, "y": 13.65, "x2": 2.3, "y2": 14.03}, {"x": 2.91, "y": 11.64, "x2": 2.49, "y2": 11.33}, {"x": 2.94, "y": 11.33, "x2": 2.49, "y2": 7.93}]}, "mark": {"type": "rule", "color": "black", "strokeWidth": 1.2}, "encoding": {"x2": {"field": "x2"}, "y2": {"field": "y2"}}}
      ]
    },
    {
      "width": 289, "height": 213,
      "title": {"text": "d"},
      "encoding": {
        "x": {"field": "x", "type": "quantitative", "scale": {"domain": [0, 6], "nice": false}, "axis": {"title": "R (Å)", "values": [0,1,2,3,4,5,6], "labelExpr": "datum.value % 2 === 0 ? format(datum.value, 'd') : ''", "titlePadding": 8}},
        "y": {"field": "y", "type": "quantitative", "scale": {"domain": [0, 15], "nice": false}, "axis": {"title": "|FT(k³χ(k))| (Å⁻⁴)", "values": [0,1,2,3,4,5,6,7,8,9,10,11,12,13,14,15], "labelExpr": "datum.value % 2 === 0 ? format(datum.value, 'd') : ''", "titlePadding": 10}}
      },
      "layer": [
        {"data": {"name": "d"}, "mark": {"type": "line", "strokeWidth": 3, "interpolate": "monotone", "clip": true},
         "encoding": {"color": {"field": "s", "type": "nominal", "sort": null, "scale": {"domain": ["Zn foil","ZnO","PtZn/HNCNT"], "range": ["#EE1C1C","#1818E0","#33EE33"]},
           "legend": {"title": null, "orient": "none", "legendX": 177, "legendY": 8, "symbolType": "stroke", "symbolSize": 784, "symbolStrokeWidth": 3.5}}}},
        {"data": {"values": [{"x": 0.31, "y": 14.0, "t": "Zn K-edge"}]}, "mark": {"type": "text", "align": "left", "baseline": "middle", "font": "Liberation Sans", "fontWeight": "bold", "fontSize": 10.5, "color": "black"}, "encoding": {"text": {"field": "t"}}},
        {"data": {"values": [{"x": 1.14, "y": 11.16, "t": "Zn–O"}, {"x": 2.32, "y": 11.84, "t": "Zn–Zn"}, {"x": 3.56, "y": 10.1, "t": "Zn–Pt"}]}, "mark": {"type": "text", "align": "center", "baseline": "middle", "font": "Liberation Sans", "fontWeight": "bold", "fontSize": 10.5, "color": "black"}, "encoding": {"text": {"field": "t"}}},
        {"data": {"values": [{"x": 1.24, "y": 10.73, "x2": 1.52, "y2": 9.67}, {"x": 2.32, "y": 11.44, "x2": 2.32, "y2": 10.1}, {"x": 3.21, "y": 10.1, "x2": 2.35, "y2": 8.77}]}, "mark": {"type": "rule", "color": "black", "strokeWidth": 1.2}, "encoding": {"x2": {"field": "x2"}, "y2": {"field": "y2"}}}
      ]
    }
  ]
}
